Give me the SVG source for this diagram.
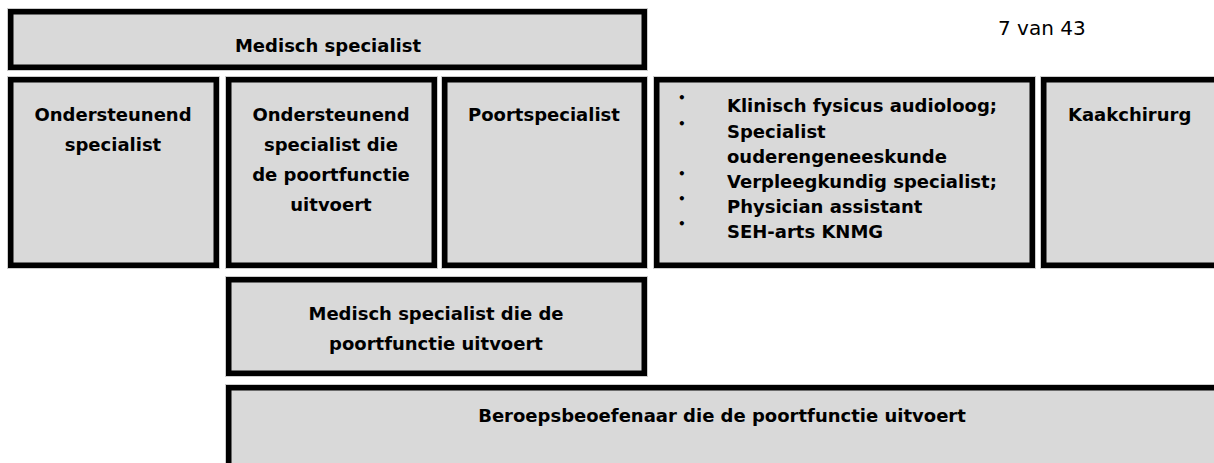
<svg xmlns="http://www.w3.org/2000/svg" width="1214" height="463" viewBox="0 0 1214 463">
<style>
.halo{fill:#cccccc}
.box{fill:#d9d9d9;stroke:#000;stroke-width:5.5}
.t{font-family:"DejaVu Sans","Verdana",sans-serif;font-weight:bold;font-size:18px;fill:#000}
.c{text-anchor:middle}
.b{font-family:"DejaVu Sans",sans-serif;font-weight:bold;font-size:12px;fill:#000}
.pg{font-family:"DejaVu Sans","Verdana",sans-serif;font-size:20px;fill:#000}
</style>
<rect width="1214" height="463" fill="#fff"/>
<text class="pg" x="998" y="35">7 van 43</text>
<g id="medisch-specialist">
<rect class="halo" x="7" y="8" width="641" height="63"/>
<rect class="box" x="10.75" y="11.75" width="633.5" height="55.5"/>
<text class="t c" x="328" y="52">Medisch specialist</text>
</g>
<g id="ondersteunend-specialist">
<rect class="halo" x="7" y="76" width="213" height="193"/>
<rect class="box" x="10.75" y="79.75" width="205.5" height="185.5"/>
<text class="t c" x="113" y="121">Ondersteunend</text>
<text class="t c" x="113" y="151">specialist</text>
</g>
<g id="ondersteunend-poortfunctie">
<rect class="halo" x="225" y="76" width="213" height="193"/>
<rect class="box" x="228.75" y="79.75" width="205.5" height="185.5"/>
<text class="t c" x="331" y="121">Ondersteunend</text>
<text class="t c" x="331" y="151">specialist die</text>
<text class="t c" x="331" y="181">de poortfunctie</text>
<text class="t c" x="331" y="211">uitvoert</text>
</g>
<g id="poortspecialist">
<rect class="halo" x="441" y="76" width="207" height="193"/>
<rect class="box" x="444.75" y="79.75" width="199.5" height="185.5"/>
<text class="t c" x="544" y="121">Poortspecialist</text>
</g>
<g id="overige-beroepen">
<rect class="halo" x="653" y="76" width="383" height="193"/>
<rect class="box" x="656.75" y="79.75" width="375.5" height="185.5"/>
<text class="b" x="678" y="102">•</text>
<text class="t" x="727" y="112">Klinisch fysicus audioloog;</text>
<text class="b" x="678" y="128">•</text>
<text class="t" x="727" y="138">Specialist</text>
<text class="t" x="727" y="163">ouderengeneeskunde</text>
<text class="b" x="678" y="178">•</text>
<text class="t" x="727" y="188">Verpleegkundig specialist;</text>
<text class="b" x="678" y="203">•</text>
<text class="t" x="727" y="213">Physician assistant</text>
<text class="b" x="678" y="228">•</text>
<text class="t" x="727" y="238">SEH-arts KNMG</text>
</g>
<g id="kaakchirurg">
<rect class="halo" x="1040" y="76" width="190" height="193"/>
<rect class="box" x="1043.75" y="79.75" width="182.5" height="185.5"/>
<text class="t" x="1068" y="121">Kaakchirurg</text>
</g>
<g id="medisch-specialist-poortfunctie">
<rect class="halo" x="225" y="276" width="423" height="101"/>
<rect class="box" x="228.75" y="279.75" width="415.5" height="93.5"/>
<text class="t c" x="436" y="320">Medisch specialist die de</text>
<text class="t c" x="436" y="350">poortfunctie uitvoert</text>
</g>
<g id="beroepsbeoefenaar">
<rect class="halo" x="225" y="384" width="1005" height="90"/>
<rect class="box" x="228.75" y="387.75" width="997.5" height="82.5"/>
<text class="t c" x="722" y="422">Beroepsbeoefenaar die de poortfunctie uitvoert</text>
</g>
<g id="connectors"></g>
</svg>
